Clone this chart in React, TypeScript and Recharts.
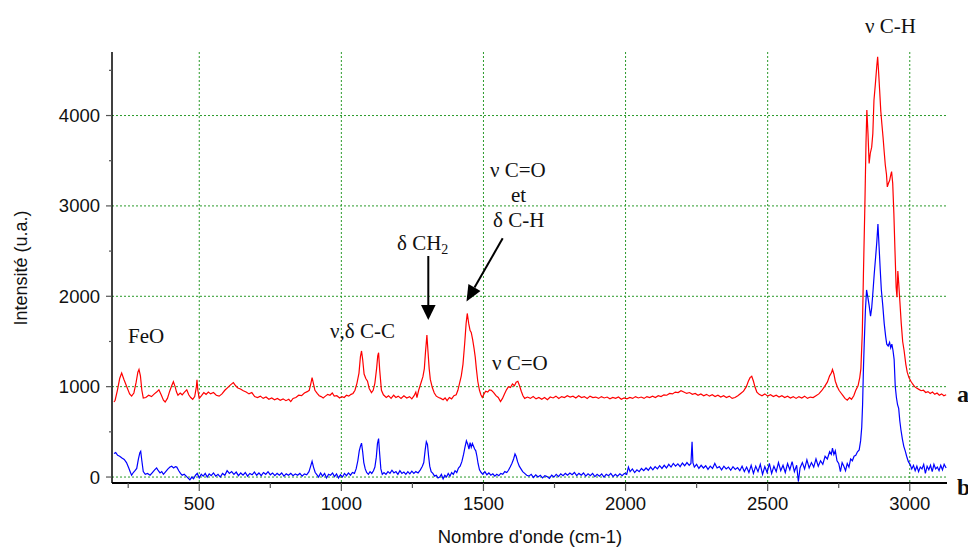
import { LineChart, Line, XAxis, YAxis, CartesianGrid } from "recharts";

// Raman spectra, wavenumber (cm-1) vs intensity (u.a.)
const spectrumA: [number, number][] = [
  [200, 830], [204, 850], [212, 960], [220, 1090], [227, 1150], [235, 1080], [245, 1000], [255, 920],
  [262, 895], [270, 930], [278, 1050], [284, 1160], [288, 1190], [293, 1120], [298, 960], [303, 875],
  [312, 880], [322, 905], [332, 890], [342, 920], [350, 940], [358, 965], [366, 910], [374, 850],
  [380, 830], [388, 870], [396, 950], [403, 1010], [409, 1055], [415, 1000], [420, 940], [425, 905],
  [433, 930], [440, 910], [448, 940], [456, 965], [463, 910], [470, 880], [477, 860], [484, 890],
  [490, 1000], [492, 1075], [495, 960], [500, 870], [508, 900], [516, 935], [524, 915], [532, 940],
  [540, 920], [550, 935], [560, 905], [570, 895], [580, 920], [590, 960], [600, 990], [610, 1020],
  [620, 1045], [628, 1010], [636, 985], [645, 975], [655, 955], [665, 940], [675, 920], [685, 935],
  [695, 890], [705, 880], [715, 895], [725, 870], [735, 885], [745, 860], [755, 875], [765, 855],
  [775, 870], [785, 850], [795, 865], [805, 845], [815, 860], [822, 835], [830, 870], [840, 880],
  [850, 905], [860, 900], [870, 930], [880, 945], [887, 960], [893, 1040], [897, 1100], [902, 1030],
  [907, 960], [915, 925], [922, 900], [929, 890], [936, 875], [944, 895], [952, 915], [960, 905],
  [968, 930], [975, 895], [984, 900], [994, 875], [1002, 890], [1010, 880], [1018, 905], [1026, 895],
  [1034, 915], [1041, 925], [1048, 960], [1055, 1040], [1062, 1150], [1067, 1330], [1071, 1395], [1075, 1300],
  [1080, 1140], [1086, 1090], [1092, 1060], [1098, 980], [1106, 935], [1112, 960], [1118, 1040], [1124, 1200],
  [1128, 1340], [1131, 1375], [1135, 1180], [1141, 960], [1148, 910], [1158, 880], [1166, 900], [1175, 870],
  [1184, 905], [1192, 880], [1200, 895], [1210, 870], [1220, 900], [1230, 875], [1240, 890], [1248, 865],
  [1256, 900], [1262, 940], [1266, 880], [1272, 960], [1280, 1040], [1287, 1110], [1292, 1200], [1296, 1380],
  [1301, 1570], [1305, 1380], [1309, 1200], [1313, 1080], [1320, 990], [1327, 930], [1334, 895], [1342, 880],
  [1350, 870], [1358, 855], [1365, 875], [1372, 845], [1380, 880], [1388, 865], [1396, 900], [1404, 910],
  [1410, 960], [1416, 1040], [1422, 1120], [1428, 1250], [1434, 1480], [1439, 1700], [1443, 1810], [1448, 1700],
  [1453, 1620], [1457, 1600], [1462, 1520], [1467, 1420], [1471, 1330], [1475, 1200], [1480, 1060], [1486, 960],
  [1491, 910], [1496, 880], [1502, 920], [1508, 950], [1515, 940], [1521, 965], [1528, 960], [1536, 935],
  [1544, 900], [1552, 880], [1560, 835], [1567, 870], [1574, 920], [1581, 965], [1588, 1000], [1595, 990],
  [1602, 1030], [1609, 1010], [1615, 1050], [1621, 1060], [1627, 1010], [1633, 950], [1639, 900], [1645, 870],
  [1655, 885], [1665, 870], [1675, 890], [1685, 865], [1695, 880], [1705, 860], [1715, 880], [1725, 855],
  [1735, 885], [1745, 875], [1755, 895], [1765, 870], [1775, 890], [1785, 880], [1795, 900], [1805, 885],
  [1815, 895], [1825, 875], [1835, 900], [1845, 880], [1855, 890], [1865, 870], [1875, 895], [1885, 880],
  [1895, 885], [1905, 870], [1915, 890], [1925, 875], [1935, 885], [1945, 865], [1955, 880], [1965, 870],
  [1975, 885], [1985, 860], [1995, 875], [2005, 865], [2015, 880], [2025, 870], [2035, 890], [2045, 875],
  [2055, 885], [2065, 870], [2075, 890], [2085, 880], [2095, 895], [2105, 880], [2115, 900], [2125, 890],
  [2135, 910], [2145, 905], [2155, 925], [2165, 920], [2175, 940], [2185, 935], [2195, 955], [2205, 940],
  [2215, 925], [2225, 935], [2235, 915], [2245, 925], [2255, 905], [2265, 920], [2275, 900], [2285, 915],
  [2295, 895], [2305, 910], [2315, 890], [2325, 905], [2335, 885], [2345, 900], [2355, 880], [2365, 895],
  [2375, 870], [2385, 880], [2395, 900], [2405, 925], [2415, 950], [2425, 1000], [2432, 1060], [2438, 1100],
  [2444, 1115], [2450, 1060], [2456, 990], [2462, 940], [2470, 915], [2480, 900], [2490, 920], [2500, 895],
  [2510, 910], [2520, 890], [2530, 905], [2540, 885], [2550, 900], [2560, 880], [2570, 895], [2580, 875],
  [2590, 890], [2600, 870], [2610, 890], [2620, 875], [2630, 895], [2640, 870], [2650, 885], [2660, 880],
  [2670, 900], [2680, 920], [2690, 955], [2700, 1000], [2710, 1050], [2718, 1120], [2724, 1150], [2728, 1190],
  [2733, 1140], [2738, 1060], [2745, 1000], [2751, 960], [2758, 930], [2765, 900], [2772, 870], [2780, 850],
  [2788, 880], [2795, 860], [2803, 900], [2810, 960], [2818, 1010], [2824, 1100], [2828, 1200], [2833, 1600],
  [2837, 2250], [2842, 3000], [2846, 3700], [2849, 4060], [2853, 3800], [2857, 3470], [2861, 3580], [2866, 3650],
  [2870, 3800], [2874, 4170], [2879, 4350], [2884, 4550], [2887, 4650], [2890, 4500], [2894, 4280], [2898, 4050],
  [2902, 3900], [2906, 3760], [2910, 3600], [2914, 3450], [2918, 3350], [2921, 3210], [2925, 3250], [2929, 3280],
  [2933, 3340], [2936, 3380], [2940, 3250], [2944, 2920], [2948, 2500], [2952, 2100], [2955, 1990], [2958, 2280],
  [2961, 2150], [2965, 1950], [2970, 1700], [2975, 1500], [2980, 1400], [2986, 1250], [2991, 1160], [2997, 1100],
  [3004, 1060], [3010, 1030], [3017, 1000], [3024, 985], [3032, 970], [3040, 955], [3048, 960], [3056, 935],
  [3064, 945], [3072, 925], [3080, 940], [3088, 915], [3096, 930], [3104, 905], [3112, 920], [3120, 900],
  [3128, 910],
];

const spectrumB: [number, number][] = [
  [200, 260], [206, 270], [213, 240], [220, 230], [228, 210], [236, 195], [244, 160], [252, 100],
  [258, 50], [262, 20], [268, 50], [274, 70], [280, 95], [286, 200], [291, 270], [294, 285],
  [298, 180], [303, 60], [310, 30], [318, 40], [327, 20], [335, 50], [343, 80], [350, 100],
  [356, 70], [362, 45], [368, 60], [374, 30], [382, 60], [390, 90], [397, 110], [403, 120],
  [410, 100], [416, 115], [421, 110], [428, 70], [434, 40], [440, 20], [447, 30], [454, 10],
  [460, -10], [467, -30], [474, 0], [480, -20], [487, 20], [493, 40], [500, -10], [507, 30],
  [514, 10], [521, 40], [528, 0], [535, 35], [542, 15], [550, 45], [558, 10], [566, 30],
  [574, 0], [582, 40], [590, 20], [598, 70], [606, 40], [614, 60], [622, 30], [630, 55],
  [638, 15], [646, 45], [654, 20], [662, 50], [670, 10], [678, 40], [686, 25], [694, 55],
  [702, 20], [710, 45], [718, 15], [726, 50], [734, 30], [742, 60], [750, 25], [758, 45],
  [766, 15], [774, 40], [782, 20], [790, 45], [798, 10], [806, 35], [814, 20], [822, 40],
  [830, 15], [838, 35], [846, 20], [854, 40], [862, 10], [870, 35], [878, 25], [886, 60],
  [891, 110], [897, 175], [902, 110], [908, 50], [913, 30], [920, 0], [927, 45], [934, 10],
  [941, 40], [948, -10], [955, 30], [962, 20], [969, 45], [976, 5], [983, 35], [990, -10],
  [997, 25], [1004, 0], [1011, 40], [1018, 15], [1025, 45], [1032, 20], [1039, 50], [1046, 40],
  [1052, 90], [1058, 180], [1063, 290], [1067, 340], [1071, 375], [1075, 280], [1079, 160], [1084, 90],
  [1089, 50], [1095, 30], [1101, 60], [1107, 40], [1113, 70], [1118, 110], [1123, 220], [1127, 370],
  [1131, 425], [1135, 250], [1139, 90], [1144, 30], [1150, 50], [1157, 30], [1164, 60], [1171, 40],
  [1178, 75], [1185, 45], [1192, 60], [1199, 30], [1206, 70], [1213, 40], [1220, 55], [1227, 30],
  [1234, 60], [1241, 35], [1248, 65], [1255, 40], [1262, 60], [1270, 45], [1278, 80], [1285, 120],
  [1290, 160], [1295, 300], [1299, 390], [1303, 360], [1307, 230], [1311, 120], [1316, 60], [1322, 40],
  [1328, 10], [1334, 20], [1340, -10], [1346, 0], [1352, 30], [1358, -20], [1364, 20], [1370, 0],
  [1376, 40], [1382, 10], [1388, 50], [1394, 30], [1400, 70], [1406, 50], [1412, 100], [1418, 120],
  [1424, 170], [1430, 250], [1435, 330], [1440, 400], [1445, 360], [1449, 310], [1453, 380], [1457, 330],
  [1461, 370], [1465, 340], [1469, 310], [1473, 290], [1477, 230], [1481, 150], [1486, 80], [1492, 50],
  [1498, 30], [1505, 60], [1512, 25], [1519, 45], [1526, 20], [1533, 35], [1540, 10], [1547, 30],
  [1554, 15], [1561, 40], [1568, 30], [1575, 60], [1582, 50], [1588, 75], [1594, 110], [1600, 150],
  [1606, 200], [1611, 255], [1615, 230], [1620, 170], [1626, 120], [1632, 90], [1638, 60], [1645, 40],
  [1652, 20], [1660, 10], [1668, 30], [1676, -5], [1684, 25], [1692, 0], [1700, 20], [1708, -10],
  [1716, 15], [1724, 5], [1732, -15], [1740, 20], [1748, 0], [1756, 30], [1764, 5], [1772, 35],
  [1780, 15], [1788, 40], [1796, 20], [1804, 45], [1812, 25], [1820, 50], [1828, 15], [1836, 40],
  [1844, 20], [1852, 45], [1860, 10], [1868, 35], [1876, 15], [1884, 40], [1892, 5], [1900, 30],
  [1908, 10], [1916, 35], [1924, 0], [1932, 30], [1940, 15], [1948, 40], [1956, 5], [1964, 30],
  [1972, 10], [1980, 35], [1988, 15], [1996, 40], [2004, 30], [2010, 110], [2016, 60], [2024, 90],
  [2032, 50], [2040, 80], [2048, 60], [2056, 95], [2064, 70], [2072, 100], [2080, 75], [2088, 110],
  [2096, 80], [2104, 115], [2112, 90], [2120, 125], [2128, 95], [2136, 130], [2144, 100], [2152, 140],
  [2160, 110], [2168, 150], [2176, 120], [2184, 145], [2192, 115], [2200, 155], [2208, 125], [2216, 160],
  [2224, 130], [2230, 150], [2234, 390], [2237, 160], [2242, 110], [2250, 140], [2258, 95], [2266, 130],
  [2274, 100], [2282, 125], [2290, 85], [2298, 120], [2306, 95], [2314, 150], [2322, 100], [2330, 115],
  [2338, 80], [2346, 120], [2354, 90], [2362, 110], [2370, 75], [2378, 115], [2386, 85], [2394, 105],
  [2402, 70], [2410, 120], [2418, 60], [2426, 110], [2434, 50], [2442, 130], [2450, 40], [2458, 120],
  [2466, 60], [2474, 140], [2482, 30], [2490, 115], [2498, 50], [2506, 150], [2514, 40], [2522, 120],
  [2530, 60], [2538, 160], [2546, 70], [2554, 130], [2562, 50], [2570, 150], [2578, 80], [2586, 170],
  [2594, 60], [2602, 130], [2608, -50], [2614, 100], [2622, 160], [2630, 90], [2638, 190], [2646, 100],
  [2654, 160], [2662, 110], [2670, 200], [2678, 120], [2686, 180], [2694, 140], [2702, 230], [2710, 200],
  [2718, 280], [2724, 250], [2728, 320], [2733, 250], [2738, 290], [2744, 180], [2750, 150], [2756, 60],
  [2762, 160], [2768, 120], [2774, 70], [2780, 150], [2786, 110], [2792, 200], [2798, 180], [2804, 230],
  [2810, 240], [2816, 280], [2822, 300], [2827, 400], [2831, 550], [2834, 800], [2837, 1200], [2840, 1500],
  [2844, 1850], [2848, 2070], [2852, 2000], [2857, 1900], [2862, 1780], [2866, 1870], [2870, 2030], [2875, 2250],
  [2880, 2440], [2884, 2600], [2888, 2800], [2892, 2550], [2896, 2300], [2900, 2070], [2905, 1900], [2910, 1700],
  [2915, 1560], [2919, 1470], [2924, 1450], [2929, 1490], [2933, 1430], [2937, 1470], [2941, 1400], [2945, 1300],
  [2949, 1000], [2953, 880], [2957, 800], [2961, 760], [2965, 620], [2969, 520], [2974, 420], [2979, 340],
  [2984, 290], [2989, 230], [2995, 170], [3001, 140], [3007, 90], [3013, 130], [3019, 70], [3025, 120],
  [3031, 60], [3037, 110], [3043, 90], [3049, 140], [3055, 40], [3061, 120], [3067, 80], [3073, 130],
  [3079, 60], [3085, 140], [3091, 90], [3097, 110], [3103, 70], [3109, 130], [3115, 80], [3121, 140],
  [3128, 100],
];

const xTicks = [250, 500, 750, 1000, 1250, 1500, 1750, 2000, 2250, 2500, 2750, 3000];
const yTicks = [0, 500, 1000, 1500, 2000, 2500, 3000, 3500, 4000, 4500];
const xGrid = [500, 1000, 1500, 2000, 2500, 3000];
const yGrid = [0, 1000, 2000, 3000, 4000];

const dataA = spectrumA.map(([wn, v]) => ({ wn, a: v }));
const dataB = spectrumB.map(([wn, v]) => ({ wn, b: v }));

const sans = "'Liberation Sans', Arial, sans-serif";
const serif = "'Liberation Serif', 'Times New Roman', serif";

function YTick(props: any) {
  const { x, y, payload } = props;
  const major = payload.value % 1000 === 0;
  return (
    <g>
      <line x1={x - (major ? 6 : 3)} x2={x} y1={y} y2={y} stroke="#555" strokeWidth={1.2} />
      {major && (
        <text x={x - 12} y={y} dy={6.5} textAnchor="end" fontFamily={sans} fontSize={18.5} fill="#111">
          {payload.value}
        </text>
      )}
    </g>
  );
}

function XTick(props: any) {
  const { x, y, payload } = props;
  const major = payload.value % 500 === 0;
  return (
    <g>
      <line x1={x} x2={x} y1={y} y2={y + (major ? 8 : 5)} stroke="#555" strokeWidth={1.2} />
      {major && (
        <text x={x} y={y + 27} textAnchor="middle" fontFamily={sans} fontSize={18.5} fill="#111">
          {payload.value}
        </text>
      )}
    </g>
  );
}

export default function App() {
  return (
    <div style={{ position: "absolute", left: 0, top: 0, width: 968, height: 547, background: "#fff" }}>
      <LineChart width={968} height={547} margin={{ top: 52, right: 21, bottom: 24, left: 52 }}>
        <CartesianGrid
          stroke="#2a9a2a"
          strokeDasharray="2 2"
          horizontalValues={yGrid}
          verticalValues={xGrid}
        />
        <XAxis
          type="number"
          dataKey="wn"
          domain={[193, 3131]}
          allowDataOverflow
          ticks={xTicks}
          interval={0}
          height={40}
          tickSize={0}
          tickMargin={0}
          tickLine={false}
          tick={<XTick />}
          axisLine={{ stroke: "#000", strokeWidth: 2 }}
        />
        <YAxis
          type="number"
          domain={[-66, 4703]}
          allowDataOverflow
          ticks={yTicks}
          interval={0}
          width={60}
          tickSize={0}
          tickMargin={0}
          tickLine={false}
          tick={<YTick />}
          axisLine={{ stroke: "#000", strokeWidth: 1.5 }}
        />
        <Line data={dataA} dataKey="a" type="linear" stroke="#ff0000" strokeWidth={1.2} dot={false} isAnimationActive={false} />
        <Line data={dataB} dataKey="b" type="linear" stroke="#0000ff" strokeWidth={1.2} dot={false} isAnimationActive={false} />
      </LineChart>

      <svg width={968} height={547} style={{ position: "absolute", left: 0, top: 0, pointerEvents: "none" }}>
        <text x={27} y={268} transform="rotate(-90 27 268)" textAnchor="middle" fontFamily={sans} fontSize={18} fill="#111">
          Intensité (u.a.)
        </text>
        <text x={530} y={543} textAnchor="middle" fontFamily={sans} fontSize={18.5} fill="#111">
          Nombre d'onde (cm-1)
        </text>

        <g fontFamily={serif} fontSize={21} fill="#111">
          <text x={865} y={33}>ν C-H</text>
          <text x={128} y={343}>FeO</text>
          <text x={330} y={338}>ν,δ C-C</text>
          <text x={397} y={250}>
            δ CH<tspan fontSize={14} dy={4}>2</tspan>
          </text>
          <text x={490} y={177}>ν C=O</text>
          <text x={511} y={202}>et</text>
          <text x={493} y={227}>δ C-H</text>
          <text x={492} y={370}>ν C=O</text>
          <text x={957} y={402} fontWeight="bold" fontSize={24}>a</text>
          <text x={957} y={495} fontWeight="bold" fontSize={24}>b</text>
        </g>

        <line x1={428.3} y1={256} x2={428.3} y2={306} stroke="#000" strokeWidth={2} />
        <polygon points="421,305 435.6,305 428.3,320" fill="#000" />
        <line x1={502.7} y1={238.3} x2={474.5} y2={287.6} stroke="#000" strokeWidth={2} />
        <polygon points="466.5,301.5 480.5,291.1 468.4,284.1" fill="#000" />
      </svg>
    </div>
  );
}
